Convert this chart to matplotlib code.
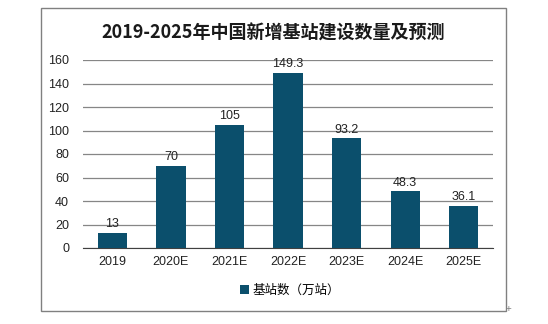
import matplotlib.pyplot as plt
from matplotlib.patches import Rectangle

plt.rcParams['font.family'] = ['Liberation Sans', 'Noto Sans CJK SC', 'DejaVu Sans']

years = ['2019', '2020E', '2021E', '2022E', '2023E', '2024E', '2025E']
stations = [13, 70, 105, 149.3, 93.2, 48.3, 36.1]
value_labels = ['13', '70', '105', '149.3', '93.2', '48.3', '36.1']
yticks = [0, 20, 40, 60, 80, 100, 120, 140, 160]

bar_color = '#0b4f6c'

fig = plt.figure(figsize=(5.48, 3.24), dpi=100)

# outer frame
fig.patches.append(Rectangle((41 / 548, 1 - 311 / 324), 465 / 548, 303 / 324,
                             transform=fig.transFigure, fill=False,
                             edgecolor='#808080', linewidth=1.0))

ax = fig.add_axes([83 / 548, 1 - 248 / 324, 410 / 548, 188 / 324])
x = range(len(years))
bars = ax.bar(x, stations, width=0.5, color=bar_color, label='基站数（万站）', zorder=3)

for i, v in enumerate(stations):
    ax.text(i, v + 2, value_labels[i], ha='center', va='bottom', fontsize=9, color='#222222')

ax.set_xlim(-0.5, len(years) - 0.5)
ax.set_ylim(0, 160)
ax.set_yticks(yticks)
ax.set_xticks(list(x))
ax.set_xticklabels(years)
ax.tick_params(axis='both', length=0, labelsize=9, colors='#222222')
ax.tick_params(axis='y', pad=10)
ax.tick_params(axis='x', pad=6)
ax.grid(axis='y', color='#868686', linewidth=0.9, zorder=0)
for s in ['top', 'right', 'left']:
    ax.spines[s].set_visible(False)
ax.spines['bottom'].set_color('#404040')

fig.text(273 / 548, 1 - 33 / 324, '2019-2025年中国新增基站建设数量及预测',
         ha='center', va='center', fontsize=13, fontweight='bold',
         family=['Noto Sans CJK SC', 'DejaVu Sans'], color='#1a1a1a')

leg = fig.legend(handles=[bars], labels=['基站数（万站）'], loc='center',
                 bbox_to_anchor=(290 / 548, 1 - 290 / 324), frameon=False,
                 prop={'family': ['Noto Sans CJK SC', 'DejaVu Sans'], 'size': 9},
                 handlelength=0.7, handleheight=0.7, handletextpad=0.3)

fig.text(508 / 548, 1 - 309 / 324, '+', ha='center', va='center', fontsize=7, color='#808080')

fig.savefig('out.png', dpi=100)
